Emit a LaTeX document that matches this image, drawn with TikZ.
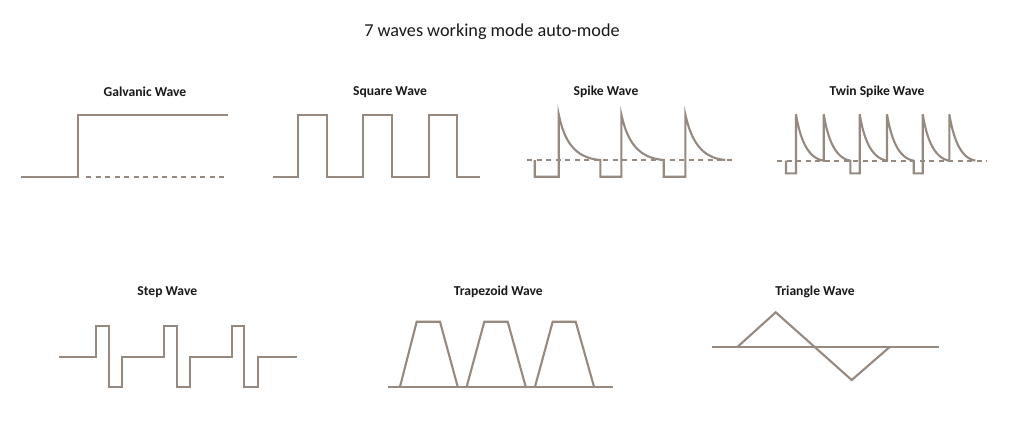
\documentclass[tikz,border=0pt]{standalone}
\usepackage{fontspec}
\setmainfont{Carlito}
\definecolor{wavecol}{RGB}{150,137,128}
\definecolor{txtcol}{RGB}{25,25,25}
\begin{document}
\begin{tikzpicture}[x=1pt,y=-1pt,
  wave/.style={draw=wavecol,line width=2.1pt,line join=miter},
  dashline/.style={draw=wavecol,line width=1.8pt,dash pattern=on 5pt off 4.5pt},
  label/.style={font=\bfseries\fontsize{13.6}{15}\selectfont,text=txtcol,inner sep=0pt},
  title/.style={font=\fontsize{18.2}{21}\selectfont,text=txtcol,inner sep=0pt}]
\fill[white] (0,0) rectangle (1024,445);
\useasboundingbox (0,0) rectangle (1024,445);
\node[title] (title) at (492,31.7) {7 waves working mode auto-mode};
% labels
\node[label] (lgal) at (145,91.7) {Galvanic Wave};
\node[label] (lsq) at (390,91.7) {Square Wave};
\node[label] (lspk) at (606,91.7) {Spike Wave};
\node[label] (ltwin) at (877,91.7) {Twin Spike Wave};
\node[label] (lstep) at (167.3,291.7) {Step Wave};
\node[label] (ltrap) at (498.3,291.7) {Trapezoid Wave};
\node[label] (ltri) at (815,291.7) {Triangle Wave};
% Galvanic
\draw[wave] (20.7,176.7) -- (78.3,176.7) -- (78.3,115) -- (228,115);
\draw[dashline] (86,176.7) -- (228,176.7);
% Square
\draw[wave] (273.3,176.7) -- (298.3,176.7) -- (298.3,115) -- (326.7,115) -- (326.7,176.7)
  -- (363.3,176.7) -- (363.3,115) -- (391.7,115) -- (391.7,176.7)
  -- (429,176.7) -- (429,115) -- (456.7,115) -- (456.7,176.7) -- (480,176.7);
% Spike
\draw[dashline] (527,160) -- (733.7,160);
\draw[wave] (534.7,160) -- (534.7,176.7) -- (558.7,176.7) -- (558.7,114.3)
  .. controls (564,140) and (574,158) .. (600.3,160) -- (600.3,176.7) -- (621.3,176.7) -- (621.3,114.3)
  .. controls (627,140) and (637,158) .. (663.7,160) -- (663.7,176.7) -- (685.3,176.7) -- (685.3,114.3)
  .. controls (691,140) and (701,158) .. (725.3,160);
% Twin spike
\draw[dashline] (777,160.7) -- (987,160.7);
\draw[wave] (786,160.7) -- (786,173.3) -- (796,173.3) -- (796,114.3)
  .. controls (800,138) and (807,158) .. (823.7,160.7) -- (823.7,114.3)
  .. controls (827.7,138) and (834.7,158) .. (850.3,160.7) -- (850.3,173.3) -- (859.7,173.3) -- (859.7,114.3)
  .. controls (863.7,138) and (870.7,158) .. (887,160.7) -- (887,114.3)
  .. controls (891,138) and (898,158) .. (913.7,160.7) -- (913.7,173.3) -- (922.7,173.3) -- (922.7,114.3)
  .. controls (926.7,138) and (933.7,158) .. (949.3,160.7) -- (949.3,114.3)
  .. controls (953.3,138) and (960.3,158) .. (975.3,160.7);
% Step
\draw[wave] (59.3,356.7) -- (95.7,356.7) -- (95.7,325.7) -- (109,325.7) -- (109,387.3) -- (122.3,387.3) -- (122.3,356.7)
  -- (164,356.7) -- (164,325.7) -- (176.7,325.7) -- (176.7,387.3) -- (190,387.3) -- (190,356.7)
  -- (231.7,356.7) -- (231.7,325.7) -- (244.3,325.7) -- (244.3,387.3) -- (258.3,387.3) -- (258.3,356.7) -- (296.7,356.7);
% Trapezoid
\draw[wave] (388.3,386.7) -- (612.7,386.7);
\draw[wave] (400,386.7) -- (416.7,321.7) -- (440,321.7) -- (457.7,386.7);
\draw[wave] (466.7,386.7) -- (484.3,321.7) -- (507.7,321.7) -- (525.7,386.7);
\draw[wave] (535,386.7) -- (552.7,321.7) -- (575.7,321.7) -- (594,386.7);
% Triangle
\draw[wave] (711.7,346.7) -- (939.3,346.7);
\draw[wave] (737.7,346.7) -- (775.7,312.3) -- (851.7,380) -- (890,346.7);
\end{tikzpicture}
\end{document}
